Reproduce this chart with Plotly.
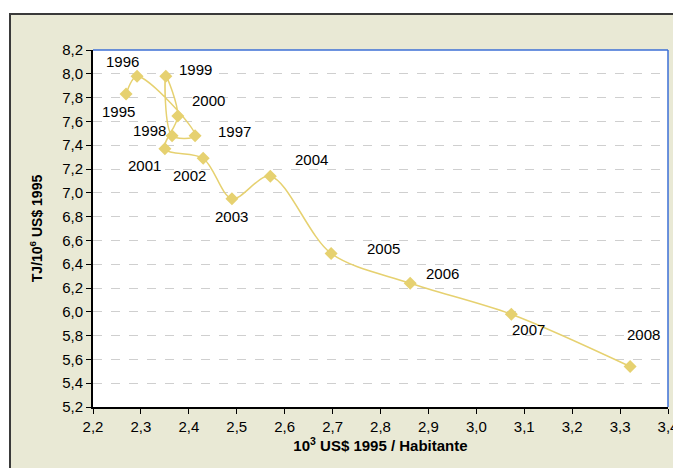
import plotly.graph_objects as go

years = ["1995", "1996", "1997", "1998", "1999", "2000", "2001", "2002",
         "2003", "2004", "2005", "2006", "2007", "2008"]
gdp_pc = [2.269, 2.292, 2.413, 2.365, 2.352, 2.377, 2.350, 2.430,
          2.490, 2.570, 2.697, 2.862, 3.073, 3.321]
intensity = [7.83, 7.98, 7.48, 7.48, 7.98, 7.645, 7.37, 7.29,
             6.95, 7.14, 6.49, 6.24, 5.98, 5.54]

# label offsets in pixels (dx right, dy up)
label_dx = [-8, -15, 39, -23, 30, 31, -20, -14, 0, 41, 52, 32, 17, 13]
label_dy = [-17, 15, 4, 5, 7, 16, -17, -17, -18, 17, 5, 10, -15, 32]

gold = "#E6D170"
fig = go.Figure()
fig.add_trace(go.Scatter(
    x=gdp_pc, y=intensity, mode="lines+markers",
    line=dict(color=gold, width=1.5, shape="spline", smoothing=0.9),
    marker=dict(symbol="diamond", size=10, color=gold),
    showlegend=False, hoverinfo="x+y"))

for yr, xv, yv, dx, dy in zip(years, gdp_pc, intensity, label_dx, label_dy):
    fig.add_annotation(x=xv, y=yv, text=yr, showarrow=False,
                       xshift=dx, yshift=dy,
                       font=dict(family="Liberation Sans, Arial", size=15, color="#000"))

# the page body adds an 8px offset; figure is placed at (8, 8)
PW, PH = 575, 357
# outer chart frame with beige fill
fig.add_shape(type="rect", xref="paper", yref="paper",
              x0=(2 - 85) / PW, x1=1.1, y0=-0.3, y1=(PH + 36) / PH,
              line=dict(color="#3a3a3a", width=2), fillcolor="#E9E9D5",
              layer="below")
# white plot area
fig.add_shape(type="rect", xref="paper", yref="paper",
              x0=0, x1=1, y0=0, y1=1, line=dict(width=0),
              fillcolor="#FFFFFF", layer="below")
# blue plot border top/right
fig.add_shape(type="line", xref="paper", yref="paper", x0=0, x1=1, y0=1, y1=1,
              line=dict(color="#3D6FD6", width=1.5))
fig.add_shape(type="line", xref="paper", yref="paper", x0=1, x1=1, y0=0, y1=1,
              line=dict(color="#3D6FD6", width=1.5))

fig.update_layout(
    width=673, height=460,
    margin=dict(l=85, r=13, t=42, b=61, autoexpand=False),
    paper_bgcolor="#FFFFFF", plot_bgcolor="#FFFFFF",
    font=dict(family="Liberation Sans, Arial", size=15, color="#000"),
    xaxis=dict(range=[2.2, 3.4], dtick=0.1, tick0=2.2, tickformat=".1f",
               showgrid=False, zeroline=False, automargin=False,
               showline=True, linecolor="#000", linewidth=2,
               ticks="outside", ticklen=5, tickcolor="#000",
               title=dict(text="<b>10<sup>3</sup> US$ 1995 / Habitante</b>",
                          font=dict(size=15), standoff=6)),
    yaxis=dict(range=[5.2, 8.2], dtick=0.2, tick0=5.2, tickformat=".1f",
               showgrid=True, gridcolor="#CFCFCF", griddash="dash", gridwidth=1,
               zeroline=False, automargin=False,
               showline=True, linecolor="#000", linewidth=2,
               ticks="outside", ticklen=5, tickcolor="#000",
               title=dict(text="<b>TJ/10<sup>6</sup> US$ 1995</b>",
                          font=dict(size=14), standoff=16)),
    separators=",.",
)

fig.write_html("out.html")
